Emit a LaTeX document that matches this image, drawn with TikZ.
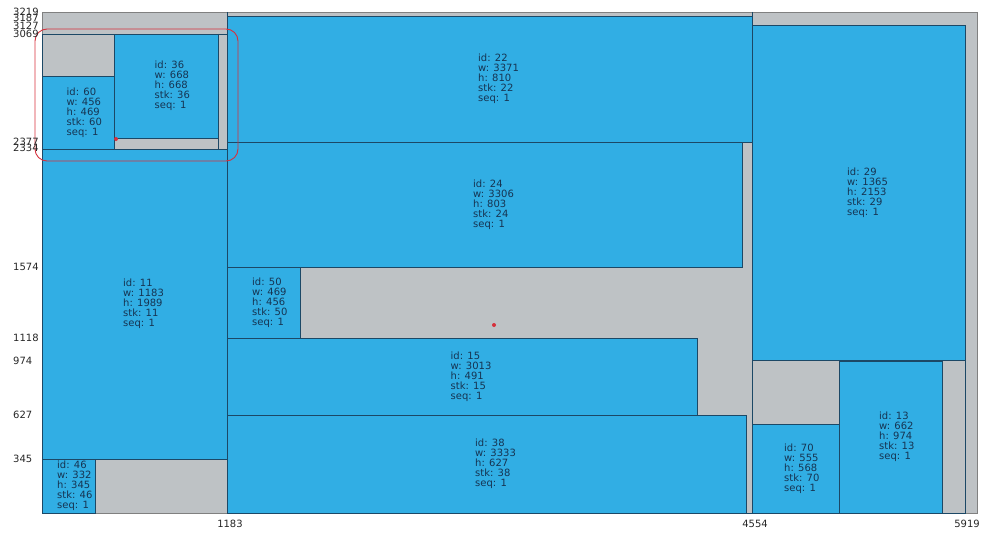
\documentclass[tikz,border=0pt]{standalone}
\usepackage{fontspec}
\setmainfont{DejaVu Sans}
\definecolor{blu}{RGB}{49,174,228}
\definecolor{gry}{RGB}{190,194,197}
\definecolor{edg}{RGB}{28,72,102}
\definecolor{txt}{RGB}{22,52,82}
\definecolor{outer}{RGB}{128,128,128}
\definecolor{redl}{RGB}{214,48,60}
\tikzset{
  itembox/.style={fill=blu,draw=edg,line width=0.9pt},
  colbox/.style={fill=gry,draw=edg,line width=0.9pt},
  itemlab/.style={anchor=west,inner sep=0pt,align=left,text=txt,font=\fontsize{10}{10}\selectfont},
  axlab/.style={inner sep=0pt,text=black!85,font=\fontsize{10}{10}\selectfont},
  hilite/.style={draw=redl,line width=0.9pt,rounded corners=12pt},
  rdot/.style={fill=redl,draw=none}
}
\newcommand\pkitem[8]{%
  \draw[itembox] (#2,#3) rectangle (#4,#5);
  \node[itemlab] (#1) at ({(#2+#4)/2-11.5},{(#3+#5)/2}) {id: #6\\w: #7\\h: #8\\stk: #6\\seq: 1};
}
\begin{document}
\begin{tikzpicture}[x=1pt,y=-1pt]
\useasboundingbox (0,0) rectangle (993,543);
% container
\draw[fill=gry,draw=outer,line width=0.9pt] (42,12) rectangle (977,513);
% columns / sub-stack
\draw[colbox] (227,16) rectangle (752,513);
\draw[edg,line width=0.9pt] (227,12) -- (227,16) (752,12) -- (752,16);
\draw[colbox] (752,25) rectangle (965,513);
\draw[colbox] (42,34) rectangle (227,149);
% items
\pkitem{i22}{227}{16}{752}{142}{22}{3371}{810}
\pkitem{i24}{227}{142}{742}{267}{24}{3306}{803}
\pkitem{i50}{227}{267}{300}{338}{50}{469}{456}
\pkitem{i15}{227}{338}{697}{415}{15}{3013}{491}
\pkitem{i38}{227}{415}{746}{513}{38}{3333}{627}
\pkitem{i11}{42}{149}{227}{459}{11}{1183}{1989}
\pkitem{i46}{42}{459}{95}{513}{46}{332}{345}
\pkitem{i60}{42}{76}{114}{149}{60}{456}{469}
\pkitem{i36}{114}{34}{218}{138}{36}{668}{668}
\pkitem{i29}{752}{25}{965}{360}{29}{1365}{2153}
\pkitem{i70}{752}{424}{839}{513}{70}{555}{568}
\pkitem{i13}{839}{361}{942}{513}{13}{662}{974}
\draw[edg,line width=0.9pt] (218,34) -- (218,149);
% highlight
\draw[hilite] (35,29) rectangle (238,161);
\fill[rdot] (116,139) circle (2);
\fill[rdot] (494,325) circle (2);
% y axis labels
\node[axlab,anchor=west] (y3219) at (13,12) {3219};
\node[axlab,anchor=west] (y3187) at (13,18) {3187};
\node[axlab,anchor=west] (y3127) at (13,26) {3127};
\node[axlab,anchor=west] (y3069) at (13,34) {3069};
\node[axlab,anchor=west] (y2377) at (13,142) {2377};
\node[axlab,anchor=west] (y2334) at (13,148) {2334};
\node[axlab,anchor=west] (y1574) at (13,267) {1574};
\node[axlab,anchor=west] (y1118) at (13,338) {1118};
\node[axlab,anchor=west] (y974) at (13,361) {974};
\node[axlab,anchor=west] (y627) at (13,415) {627};
\node[axlab,anchor=west] (y345) at (13,459) {345};
% x axis labels
\node[axlab] (x1183) at (230,524) {1183};
\node[axlab] (x4554) at (755,524) {4554};
\node[axlab] (x5919) at (967,524) {5919};
\end{tikzpicture}
\end{document}
